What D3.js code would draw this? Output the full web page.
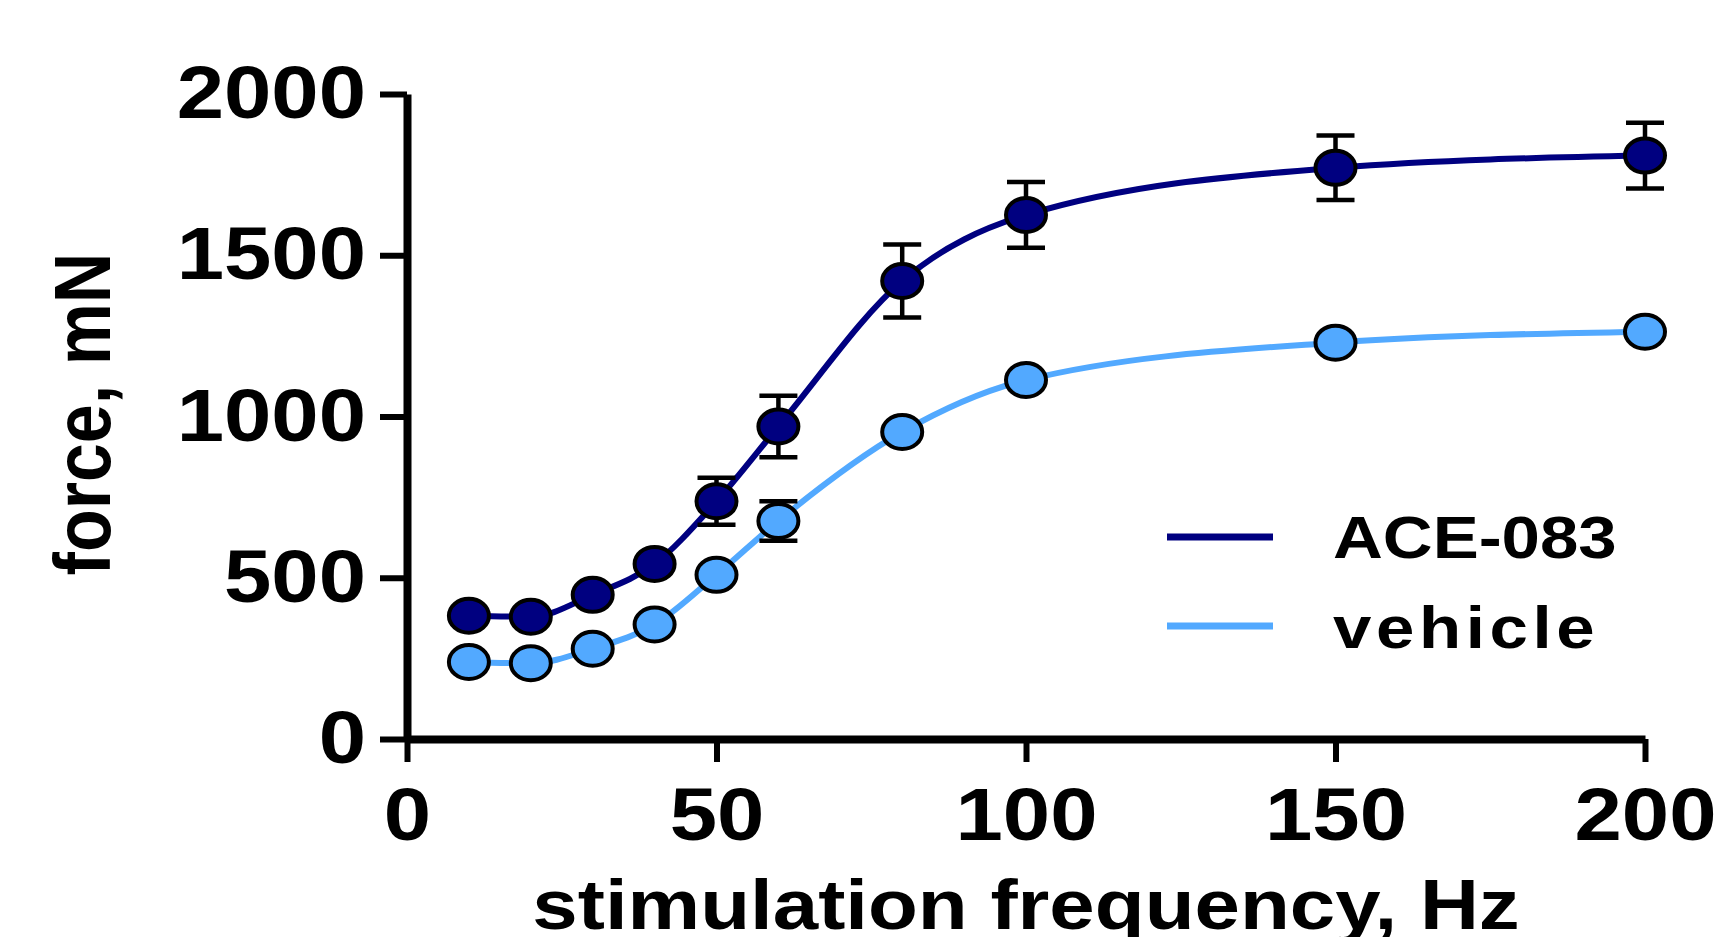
<!DOCTYPE html>
<html>
<head>
<meta charset="utf-8">
<script src="https://cdn.jsdelivr.net/npm/d3@7"></script>
<style>
body { margin: 0; background: #fff; }
text { font-family: "Liberation Sans", Arial, sans-serif; font-weight: bold; fill: #000; }
</style>
</head>
<body>
<div class="chart"></div>
<script>
// values
var freq = [10, 20, 30, 40, 50, 60, 80, 100, 150, 200];
var aceForce = [382, 379, 447, 543, 737, 969, 1420, 1625, 1771, 1809];
var aceErr = [12, 12, 15, 15, 73, 95, 113, 102, 100, 102];
var vehForce = [239, 235, 280, 355, 509, 676, 952, 1113, 1229, 1263];
var vehErr = [10, 10, 12, 15, 20, 61, 20, 20, 15, 15];
var xTicks = [0, 50, 100, 150, 200];
var yTicks = [0, 500, 1000, 1500, 2000];
var seriesNames = ["ACE-083", "vehicle"];
var seriesColors = ["#000080", "#52a9ff"];

var svgWidth = 1717;
var svgHeight = 937;
var stretch = 1.15; // the original picture is a bit wider than tall

var svg = d3.select(".chart")
	.append("svg")
	.attr("width", svgWidth)
	.attr("height", svgHeight)
	.style("display", "block");

var x = d3.scaleLinear().domain([0, 200]).range([407, 1645]);
var y = d3.scaleLinear().domain([0, 2000]).range([739, 94]);

var series = [
	{name: seriesNames[1], color: seriesColors[1], vals: vehForce, errs: vehErr},
	{name: seriesNames[0], color: seriesColors[0], vals: aceForce, errs: aceErr}
];

// axes
var bottomAxis = d3.axisBottom(x).tickValues(xTicks).tickSize(23).tickSizeOuter(0)
	.tickFormat(d3.format("d"));
var leftAxis = d3.axisLeft(y).tickValues(yTicks).tickSize(27).tickSizeOuter(0)
	.tickFormat(d3.format("d"));

var gx = svg.append("g")
	.attr("transform", "translate(0," + y(0) + ")")
	.call(bottomAxis);
gx.select(".domain").attr("stroke-width", 8);
gx.selectAll(".tick line").attr("stroke-width", 6);
gx.selectAll(".tick text")
	.attr("y", 48)
	.attr("font-size", 74)
	.attr("font-family", null)
	.attr("transform", "scale(" + stretch + ",1)");

var gy = svg.append("g")
	.attr("transform", "translate(" + x(0) + ",0)")
	.call(leftAxis);
gy.select(".domain").attr("stroke-width", 8);
gy.selectAll(".tick line").attr("stroke-width", 6);
gy.selectAll(".tick text")
	.attr("x", -41 / stretch)
	.attr("font-size", 74)
	.attr("font-family", null)
	.attr("transform", "scale(" + stretch + ",1)");

svg.selectAll(".tick text").style("font-weight", "bold");

// axis titles
svg.append("text")
	.attr("transform", "translate(" + ((x(0) + x(200)) / 2) + ",929) scale(" + stretch + ",1)")
	.attr("text-anchor", "middle")
	.attr("font-size", 71)
	.text("stimulation frequency, Hz");

svg.append("text")
	.attr("transform", "translate(110,414) scale(" + stretch + ",1) rotate(-90)")
	.attr("text-anchor", "middle")
	.attr("font-size", 70)
	.text("force, mN");

// curves, error bars, markers
var line = d3.line()
	.x(function(d, i) { return x(freq[i]); })
	.y(function(d) { return y(d); })
	.curve(d3.curveMonotoneX);

series.forEach(function(s) {
	svg.append("path")
		.datum(s.vals)
		.attr("d", line)
		.attr("fill", "none")
		.attr("stroke", s.color)
		.attr("stroke-width", 6);
});

series.forEach(function(s) {
	var g = svg.append("g");
	var bars = g.selectAll(".err")
		.data(s.vals)
		.enter().append("g")
		.attr("class", "err")
		.attr("stroke", "#000")
		.attr("stroke-width", 4.5);
	bars.append("line")
		.attr("x1", function(d, i) { return x(freq[i]); })
		.attr("x2", function(d, i) { return x(freq[i]); })
		.attr("y1", function(d, i) { return y(d + s.errs[i]); })
		.attr("y2", function(d, i) { return y(d - s.errs[i]); });
	[1, -1].forEach(function(sign) {
		bars.append("line")
			.attr("x1", function(d, i) { return x(freq[i]) - 19; })
			.attr("x2", function(d, i) { return x(freq[i]) + 19; })
			.attr("y1", function(d, i) { return y(d + sign * s.errs[i]); })
			.attr("y2", function(d, i) { return y(d + sign * s.errs[i]); });
	});
	g.selectAll("ellipse")
		.data(s.vals)
		.enter().append("ellipse")
		.attr("cx", function(d, i) { return x(freq[i]); })
		.attr("cy", function(d) { return y(d); })
		.attr("rx", 20)
		.attr("ry", 17)
		.attr("fill", s.color)
		.attr("stroke", "#000")
		.attr("stroke-width", 4);
});

// legend
var legendY = [537, 626];
seriesNames.forEach(function(name, i) {
	svg.append("line")
		.attr("x1", 1167)
		.attr("x2", 1273)
		.attr("y1", legendY[i])
		.attr("y2", legendY[i])
		.attr("stroke", seriesColors[i])
		.attr("stroke-width", 7);
	svg.append("text")
		.attr("transform", "translate(1333," + (legendY[i] + 21 + i * 1) + ") scale(" + stretch + ",1)")
		.attr("font-size", 60)
		.style("letter-spacing", i == 1 ? "4px" : "0px")
		.text(name);
});
</script>
</body>
</html>
